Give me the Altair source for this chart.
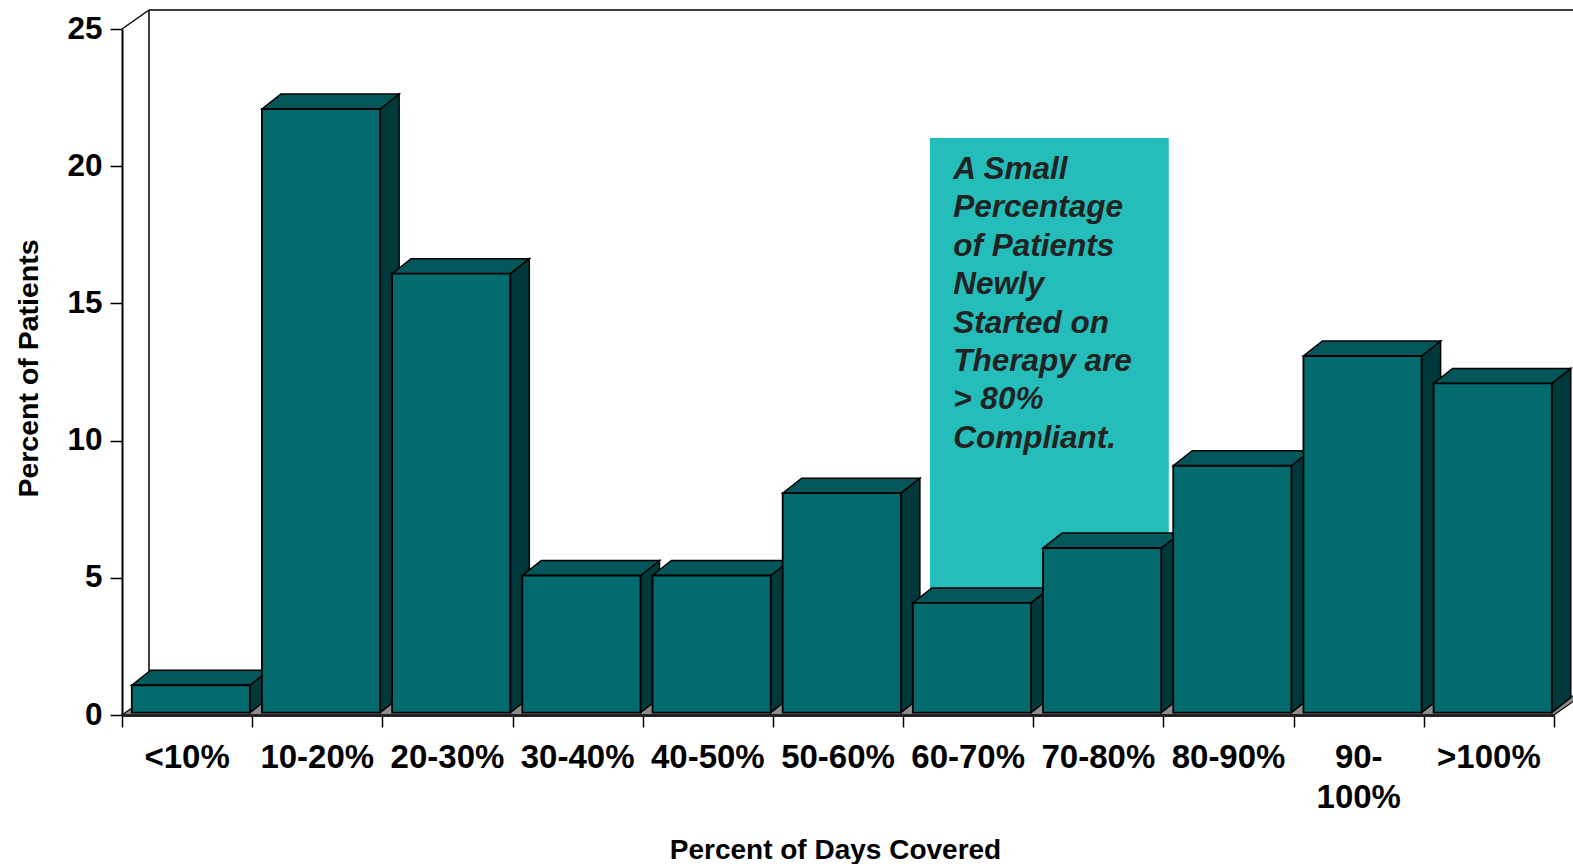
import altair as alt
import pandas as pd

# ---- data ----
categories = ["<10%", "10-20%", "20-30%", "30-40%", "40-50%", "50-60%",
              "60-70%", "70-80%", "80-90%", "90-\n100%", ">100%"]
values = [1, 22, 16, 5, 5, 8, 4, 6, 9, 13, 12]
y_ticks = [0, 5, 10, 15, 20, 25]
note_lines = ["A Small", "Percentage", "of Patients", "Newly",
              "Started on", "Therapy are", "> 80%", "Compliant."]
note_box_x = [6.206, 8.041]
note_box_y = [0.692, 21.03]

# ---- layout / 3-D geometry (in scale units) ----
W, H = 1432, 686
N = len(categories)
BAR_L, BAR_R = 0.075, 0.983        # front face within category
DX, DY = 19 / 130.2, 15 / 27.44    # bar depth offset
WX, WY = 27 / 130.2, 19 / 27.44    # wall/floor depth offset
BASE = 2.3 / 27.44                 # bar front bottom above axis

FONT = "Liberation Sans"
FRONT, TOP, SIDE = "#036B6E", "#03565A", "#00393B"

front_rows, top_rows, side_rows = [], [], []
for i, v in enumerate(values):
    x0, x1 = i + BAR_L, i + BAR_R
    front_rows.append({"bar": i, "x": x0, "x2": x1, "y": BASE, "y2": BASE + v})
    for x, y, y2 in [(x0, v + BASE, v + BASE),
                     (x0 + DX, v + BASE, v + BASE + DY),
                     (x1, v + BASE, v + BASE + DY),
                     (x1 + DX, v + BASE + DY, v + BASE + DY)]:
        top_rows.append({"bar": i, "x": x, "y": y, "y2": y2})
    for x, y, y2 in [(x1, BASE, v + BASE),
                     (x1 + DX, BASE + DY, v + BASE + DY)]:
        side_rows.append({"bar": i, "x": x, "y": y, "y2": y2})

floor = pd.DataFrame([
    {"x": 0, "y": 0, "y2": 0},
    {"x": WX, "y": 0, "y2": WY},
    {"x": N, "y": 0, "y2": WY},
    {"x": N + WX, "y": WY, "y2": WY},
])
walls = pd.DataFrame([
    {"x": 0, "y": 25, "x2": WX, "y2": 25 + WY},
    {"x": WX, "y": 25 + WY, "x2": N + 1, "y2": 25 + WY},
    {"x": WX, "y": WY, "x2": WX, "y2": 25 + WY},
])
box = pd.DataFrame([{"x": note_box_x[0], "x2": note_box_x[1],
                     "y": note_box_y[0], "y2": note_box_y[1]}])
note = pd.DataFrame([{"x": 6.385, "y": (715 - 179) / 27.44,
                      "t": "\n".join(note_lines)}])
labels = pd.DataFrame({"x": [i + 0.5 for i in range(N)], "t": categories})

xs = alt.Scale(domain=[0, N], nice=False, zero=False)
ys = alt.Scale(domain=[0, 25], nice=False)

x_axis = alt.Axis(values=list(range(N + 1)), labels=False, tickSize=12,
                  tickColor="black", tickWidth=1.5, domainColor="#222",
                  domainWidth=3, grid=False, zindex=1,
                  title="Percent of Days Covered", titleFont=FONT,
                  titleFontSize=28, titleFontWeight="bold", titleColor="black",
                  titleX=713, titleY=143, titleBaseline="alphabetic",
                  titleAlign="center")
y_axis = alt.Axis(values=y_ticks, tickSize=12, tickColor="black", tickWidth=1.5,
                  domainColor="black", domainWidth=2, grid=False,
                  labelFont=FONT, labelFontSize=31.5, labelFontWeight="bold",
                  labelColor="black", labelPadding=8, labelBaseline="middle",
                  title="Percent of Patients", titleFont=FONT, titleFontSize=28.5,
                  titleFontWeight="bold", titleColor="black", titleAngle=-90,
                  titleX=-85, titleY=339, titleBaseline="alphabetic",
                  titleAlign="center")

base_floor = alt.Chart(floor).mark_area(
    color="#8C8C8C", stroke="black", strokeWidth=1.2, interpolate="linear",
    orient="vertical"
).encode(
    x=alt.X("x:Q", scale=xs, axis=x_axis),
    y=alt.Y("y:Q", scale=ys, axis=y_axis),
    y2="y2:Q",
)
wall_lines = alt.Chart(walls).mark_rule(color="black", strokeWidth=1.5).encode(
    x=alt.X("x:Q", scale=xs), y=alt.Y("y:Q", scale=ys), x2="x2:Q", y2="y2:Q")
box_layer = alt.Chart(box).mark_rect(color="#24BDBA").encode(
    x=alt.X("x:Q", scale=xs), x2="x2:Q", y=alt.Y("y:Q", scale=ys), y2="y2:Q")
note_layer = alt.Chart(note).mark_text(
    font=FONT, fontSize=31.5, fontWeight="bold", fontStyle="italic",
    color="#222222", align="left", baseline="alphabetic",
    lineBreak="\n", lineHeight=38.4
).encode(x=alt.X("x:Q", scale=xs), y=alt.Y("y:Q", scale=ys), text="t:N")

sides = alt.Chart(pd.DataFrame(side_rows)).mark_area(
    color=SIDE, stroke="black", strokeWidth=1.5, interpolate="linear",
    orient="vertical"
).encode(x=alt.X("x:Q", scale=xs), y=alt.Y("y:Q", scale=ys), y2="y2:Q",
         detail="bar:N")
tops = alt.Chart(pd.DataFrame(top_rows)).mark_area(
    color=TOP, stroke="black", strokeWidth=1.5, interpolate="linear",
    orient="vertical"
).encode(x=alt.X("x:Q", scale=xs), y=alt.Y("y:Q", scale=ys), y2="y2:Q",
         detail="bar:N")
fronts = alt.Chart(pd.DataFrame(front_rows)).mark_rect(
    color=FRONT, stroke="black", strokeWidth=1.8
).encode(x=alt.X("x:Q", scale=xs), x2="x2:Q", y=alt.Y("y:Q", scale=ys), y2="y2:Q")

cat_labels = alt.Chart(labels).mark_text(
    font=FONT, fontSize=33, fontWeight="bold", color="black",
    align="center", baseline="alphabetic", lineBreak="\n", lineHeight=40.6
).encode(x=alt.X("x:Q", scale=xs), y=alt.value(738.7), text="t:N")

chart = alt.layer(
    base_floor, wall_lines, box_layer, note_layer, sides, tops, fronts, cat_labels
).properties(
    width=W, height=H,
    autosize=alt.AutoSizeParams(type="none"),
    padding={"left": 122, "top": 29, "right": 19, "bottom": 149},
    background="white",
).configure_view(stroke=None)

chart.save("out.html", embed_options={"renderer": "svg", "actions": False})
